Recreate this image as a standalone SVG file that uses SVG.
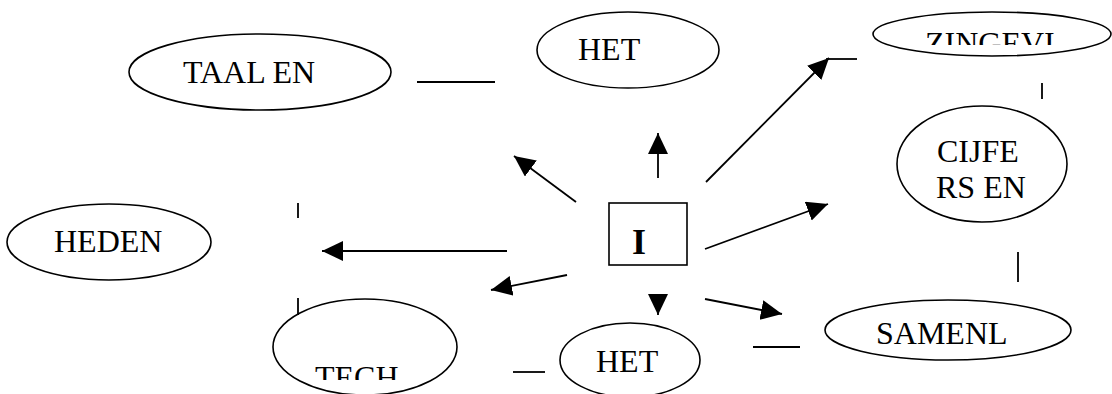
<svg xmlns="http://www.w3.org/2000/svg" width="1112" height="394" viewBox="0 0 1112 394">
<style>
.n{fill:#fff;stroke:#000;stroke-width:1.6}
.t{font-family:"Liberation Serif","Times New Roman",serif;font-size:32px;fill:#000}
.b{font-size:36px;font-weight:bold}
.c{stroke:#000;stroke-width:1.8;fill:none}
.a{marker-end:url(#ah)}
</style>
<defs>
<marker id="ah" markerUnits="userSpaceOnUse" markerWidth="22" markerHeight="22" refX="21" refY="10" orient="auto">
<path d="M0,0 L21,10 L0,20 z" fill="#000"/>
</marker>
<clipPath id="cz"><rect x="860" y="0" width="252" height="45"/></clipPath>
<clipPath id="ct"><rect x="270" y="300" width="200" height="80"/></clipPath>
</defs>
<rect width="1112" height="394" fill="#fff"/>
<g id="taal"><ellipse class="n" cx="260" cy="72" rx="131" ry="38"/><text class="t" x="183" y="83">TAAL EN</text></g>
<g id="het-top"><ellipse class="n" cx="628" cy="50" rx="91" ry="38"/><text class="t" x="578" y="60">HET</text></g>
<g id="zingevi"><ellipse class="n" cx="992" cy="34" rx="119" ry="22"/><text class="t" x="925" y="54" clip-path="url(#cz)">ZINGEVI</text></g>
<g id="cijfers"><ellipse class="n" cx="982" cy="164" rx="85" ry="58"/><text class="t" x="937" y="162">CIJFE</text><text class="t" x="936" y="198">RS EN</text></g>
<g id="samenl"><ellipse class="n" cx="948" cy="330" rx="123" ry="30"/><text class="t" x="876" y="344">SAMENL</text></g>
<g id="het-bottom"><ellipse class="n" cx="630" cy="360" rx="70" ry="37"/><text class="t" x="596" y="372">HET</text></g>
<g id="tech"><ellipse class="n" cx="365" cy="347" rx="92" ry="48"/><text class="t" x="315" y="388" clip-path="url(#ct)">TECH</text></g>
<g id="heden"><ellipse class="n" cx="109" cy="242" rx="102" ry="38"/><text class="t" x="54" y="252">HEDEN</text></g>
<g id="center"><rect class="n" x="609" y="203" width="78" height="62"/><text class="t b" x="639" y="254" text-anchor="middle">I</text></g>
<g id="connectors">
<line class="c" x1="417" y1="82" x2="495" y2="82"/>
<line class="c" x1="826" y1="59" x2="857" y2="59"/>
<line class="c" x1="1042" y1="83" x2="1042" y2="99"/>
<line class="c" x1="1018" y1="252" x2="1018" y2="282"/>
<line class="c" x1="753" y1="347" x2="800" y2="347"/>
<line class="c" x1="513" y1="372" x2="545" y2="372"/>
<line class="c" x1="298" y1="203" x2="298" y2="218"/>
<line class="c" x1="298" y1="298" x2="298" y2="315"/>
<line class="c a" x1="658" y1="178" x2="658" y2="133"/>
<line class="c a" x1="576" y1="202" x2="514" y2="156"/>
<line class="c a" x1="706" y1="182" x2="829" y2="58"/>
<line class="c a" x1="705" y1="249" x2="828" y2="204"/>
<line class="c a" x1="507" y1="251" x2="322" y2="251"/>
<line class="c a" x1="567" y1="275" x2="491" y2="290"/>
<line class="c a" x1="705" y1="299" x2="782" y2="314"/>
<line class="c a" x1="658" y1="294" x2="658" y2="315"/>
</g>
</svg>
